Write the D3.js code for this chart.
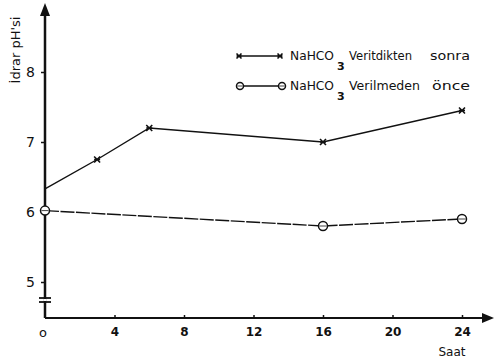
<!DOCTYPE html>
<html><head><meta charset="utf-8">
<script src="https://cdn.jsdelivr.net/npm/d3@7"></script>
<style>body{margin:0;background:#fff}svg{display:block}text{font-family:"DejaVu Sans",sans-serif;fill:#111}</style>
</head><body><svg id="c" width="499" height="362"></svg>
<script>
const hoursAfter = [0, 3, 6, 16, 24];
const phAfter = [6.33, 6.75, 7.2, 7.0, 7.45];
const hoursBefore = [0, 16, 24];
const phBefore = [6.02, 5.8, 5.9];
const xTicks = [0, 4, 8, 12, 16, 20, 24];
const xTickLabels = ["o", "4", "8", "12", "16", "20", "24"];
const yTicks = [5, 6, 7, 8];
const legendVerbs = ["Veritdikten", "Verilmeden"];
const legendWhen = ["sonra", "önce"];

const svg = d3.select("#c");
const x = d3.scaleLinear().domain([0, 24]).range([45, 462]);
const y = d3.scaleLinear().domain([5, 8]).range([282, 72]);
const ink = "#111";
const x0 = x(0), yAxisY = 318;

// axes lines
svg.append("line").attr("x1", x0).attr("x2", x0).attr("y1", yAxisY).attr("y2", 12)
  .attr("stroke", ink).attr("stroke-width", 2.5);
svg.append("path").attr("d", `M${x0-5},16 L${x0},3 L${x0+5},16 Z`).attr("fill", ink);
svg.append("line").attr("x1", x0).attr("x2", 486).attr("y1", yAxisY).attr("y2", yAxisY)
  .attr("stroke", ink).attr("stroke-width", 2.2);
svg.append("path").attr("d", `M482,${yAxisY-5} L494,${yAxisY} L482,${yAxisY+5} Z`).attr("fill", ink);

// axis break
svg.append("line").attr("x1", x0).attr("x2", x0).attr("y1", 299).attr("y2", 301).attr("stroke", "#fff").attr("stroke-width", 3);
[298, 302].forEach(v => svg.append("line").attr("x1", x0-6).attr("x2", x0+6).attr("y1", v).attr("y2", v)
  .attr("stroke", ink).attr("stroke-width", 1.8));

// y ticks
const yAx = d3.axisLeft(y).tickValues(yTicks).tickSize(4).tickFormat(d3.format("d"));
const gy = svg.append("g").attr("transform", `translate(${x0},0)`).call(yAx);
gy.select(".domain").remove();
gy.selectAll("line").attr("stroke", ink).attr("stroke-width", 1.5);
gy.selectAll("text").attr("x", -10).style("font-size", "14px").attr("fill", ink);

// x ticks
const xAx = d3.axisTop(x).tickValues(xTicks.slice(1)).tickSize(3).tickFormat((d) => xTickLabels[xTicks.indexOf(d)]);
const gx = svg.append("g").attr("transform", `translate(0,${yAxisY})`).call(xAx);
gx.select(".domain").remove();
gx.selectAll("line").attr("stroke", ink).attr("stroke-width", 1.5);
gx.selectAll("text").attr("y", 18).attr("dy", 0).style("font-size", "12px").style("font-weight", "bold").attr("fill", ink);
svg.append("text").attr("x", x0 - 2).attr("y", 337).attr("text-anchor", "middle").style("font-size", "13px").text(xTickLabels[0]);

// axis titles
svg.append("text").attr("transform", "translate(20,50) rotate(-90)").attr("text-anchor", "middle")
  .style("font-size", "13px").text("İdrar pH'si");
svg.append("text").attr("x", 452).attr("y", 356).attr("text-anchor", "middle").style("font-size", "12px").text("Saat");

// series
const line = d3.line().x(d => x(d[0])).y(d => y(d[1]));
const after = hoursAfter.map((h, i) => [h, phAfter[i]]);
const before = hoursBefore.map((h, i) => [h, phBefore[i]]);
svg.append("path").attr("d", line(after)).attr("fill", "none").attr("stroke", ink).attr("stroke-width", 1.4);
svg.append("path").attr("d", line(before)).attr("fill", "none").attr("stroke", ink).attr("stroke-width", 1.4)
  .attr("stroke-dasharray", "14,1.5");

function xMark(cx, cy, s) {
  svg.append("path").attr("d", `M${cx-s},${cy-s}L${cx+s},${cy+s}M${cx-s},${cy+s}L${cx+s},${cy-s}M${cx-s},${cy}L${cx+s},${cy}`)
    .attr("stroke", ink).attr("stroke-width", 1.6);
}
function oMark(cx, cy, r) {
  svg.append("circle").attr("cx", cx).attr("cy", cy).attr("r", r).attr("fill", "#fff")
    .attr("stroke", ink).attr("stroke-width", 1.5);
  svg.append("line").attr("x1", cx-r+1).attr("x2", cx+r-1).attr("y1", cy).attr("y2", cy).attr("stroke", ink).attr("stroke-width", 0.8);
}
after.slice(1).forEach(d => xMark(x(d[0]), y(d[1]), 3));
before.forEach(d => oMark(x(d[0]), y(d[1]), 4.5));

// legend
const legY = [56, 86];
svg.append("line").attr("x1", 238).attr("x2", 281).attr("y1", legY[0]).attr("y2", legY[0]).attr("stroke", ink).attr("stroke-width", 1.4);
xMark(239, legY[0], 2.5); xMark(280, legY[0], 2.5);
svg.append("line").attr("x1", 240).attr("x2", 281).attr("y1", legY[1]).attr("y2", legY[1]).attr("stroke", ink).attr("stroke-width", 1.4);
oMark(240, legY[1], 3.5); oMark(282, legY[1], 3.5);
const verbW = [63, 71], whenX = [430, 432];
legendVerbs.forEach((verb, i) => {
  const by = legY[i] + 4;
  svg.append("text").attr("x", 290).attr("y", by).style("font-size", "12px")
    .attr("textLength", 44).attr("lengthAdjust", "spacingAndGlyphs").text("NaHCO");
  svg.append("text").attr("x", 337).attr("y", by + 10).style("font-size", "11px").style("font-weight", "bold").text("3");
  svg.append("text").attr("x", 349).attr("y", by).style("font-size", "12px")
    .attr("textLength", verbW[i]).attr("lengthAdjust", "spacingAndGlyphs").text(verb);
  svg.append("text").attr("x", whenX[i]).attr("y", by).style("font-size", "12px")
    .attr("textLength", 470 - whenX[i]).attr("lengthAdjust", "spacingAndGlyphs").text(legendWhen[i]);
});
</script></body></html>
